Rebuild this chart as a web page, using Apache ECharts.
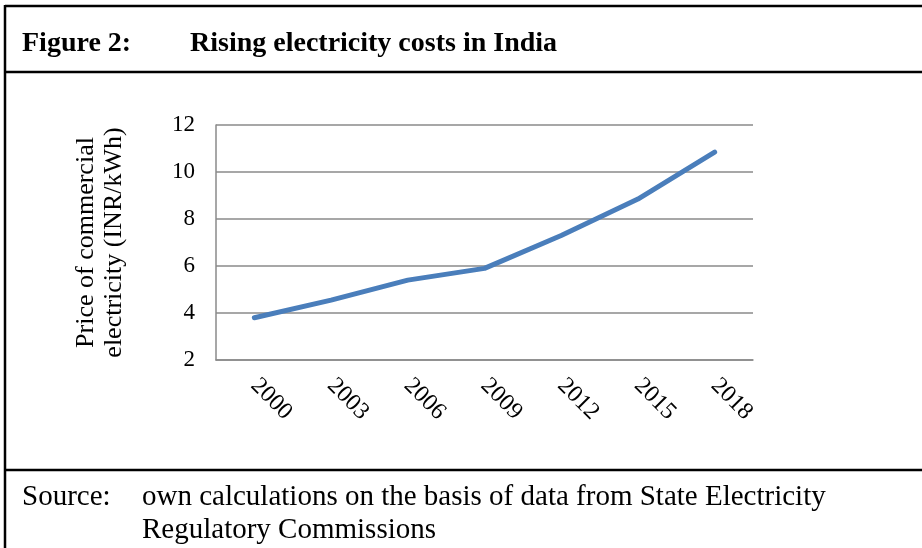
<!DOCTYPE html>
<html>
<head>
<meta charset="utf-8">
<script src="https://cdn.jsdelivr.net/npm/echarts@6/dist/echarts.min.js"></script>
<style>
html,body{margin:0;padding:0;background:#fff;}
#c{width:922px;height:548px;}
</style>
</head>
<body>
<div id="c"></div>
<script>
const years = ['2000','2003','2006','2009','2012','2015','2018'];
const prices = [3.8, 4.55, 5.4, 5.9, 7.3, 8.85, 10.85];
const yTicks = {min: 2, max: 12, interval: 2};
const figureLabel = 'Figure 2:';
const figureTitle = 'Rising electricity costs in India';
const yName = 'Price of commercial\nelectricity (INR/kWh)';
const sourceLabel = 'Source:';
const sourceText = 'own calculations on the basis of data from State Electricity\nRegulatory Commissions';

const serif = '"Liberation Serif","Times New Roman",serif';
const chart = echarts.init(document.getElementById('c'), null, {renderer:'canvas'});
chart.setOption({
  backgroundColor: '#fff',
  animation: false,
  title: [
    {text: figureLabel, left: 22, top: 30, padding: 0,
     textStyle: {fontFamily: serif, fontSize: 28, fontWeight: 'bold', color: '#000'}},
    {text: figureTitle, left: 190, top: 30, padding: 0,
     textStyle: {fontFamily: serif, fontSize: 28, fontWeight: 'bold', color: '#000'}}
  ],
  grid: {left: 216, right: 169, top: 125, bottom: 188, containLabel: false},
  xAxis: {
    type: 'category',
    data: years,
    boundaryGap: true,
    axisLine: {show: true, lineStyle: {color: '#8a8a8a', width: 1.5}},
    axisTick: {show: false},
    axisLabel: {rotate: -45, margin: 22, fontFamily: serif, fontSize: 24, color: '#000'},
    splitLine: {show: false}
  },
  yAxis: {
    type: 'value',
    min: yTicks.min, max: yTicks.max, interval: yTicks.interval,
    name: yName,
    nameLocation: 'middle',
    nameGap: 88,
    nameRotate: 90,
    nameTextStyle: {fontFamily: serif, fontSize: 26, color: '#000', lineHeight: 28, align: 'center'},
    axisLine: {show: true, lineStyle: {color: '#8a8a8a', width: 1.5}},
    axisTick: {show: false},
    axisLabel: {margin: 21, fontFamily: serif, fontSize: 23, color: '#000'},
    splitLine: {show: true, lineStyle: {color: '#8a8a8a', width: 1.5}}
  },
  series: [{
    type: 'line',
    data: prices,
    showSymbol: false,
    symbol: 'none',
    lineStyle: {color: '#4a7ebb', width: 5, cap: 'round', join: 'round'},
    z: 5
  }],
  graphic: [
    {type: 'line', shape: {x1: 5, y1: 6, x2: 922, y2: 6}, style: {stroke: '#000', lineWidth: 2.5}},
    {type: 'line', shape: {x1: 5, y1: 5, x2: 5, y2: 548}, style: {stroke: '#000', lineWidth: 2.5}},
    {type: 'line', shape: {x1: 5, y1: 72, x2: 922, y2: 72}, style: {stroke: '#000', lineWidth: 2.5}},
    {type: 'line', shape: {x1: 5, y1: 470, x2: 922, y2: 470}, style: {stroke: '#000', lineWidth: 2.5}},
    {type: 'text', left: 22, top: 481, style: {text: sourceLabel, font: '29px ' + serif, fill: '#000', lineHeight: 33}},
    {type: 'text', left: 142, top: 481, style: {text: sourceText, font: '29px ' + serif, fill: '#000', lineHeight: 33}}
  ]
});
</script>
</body>
</html>
